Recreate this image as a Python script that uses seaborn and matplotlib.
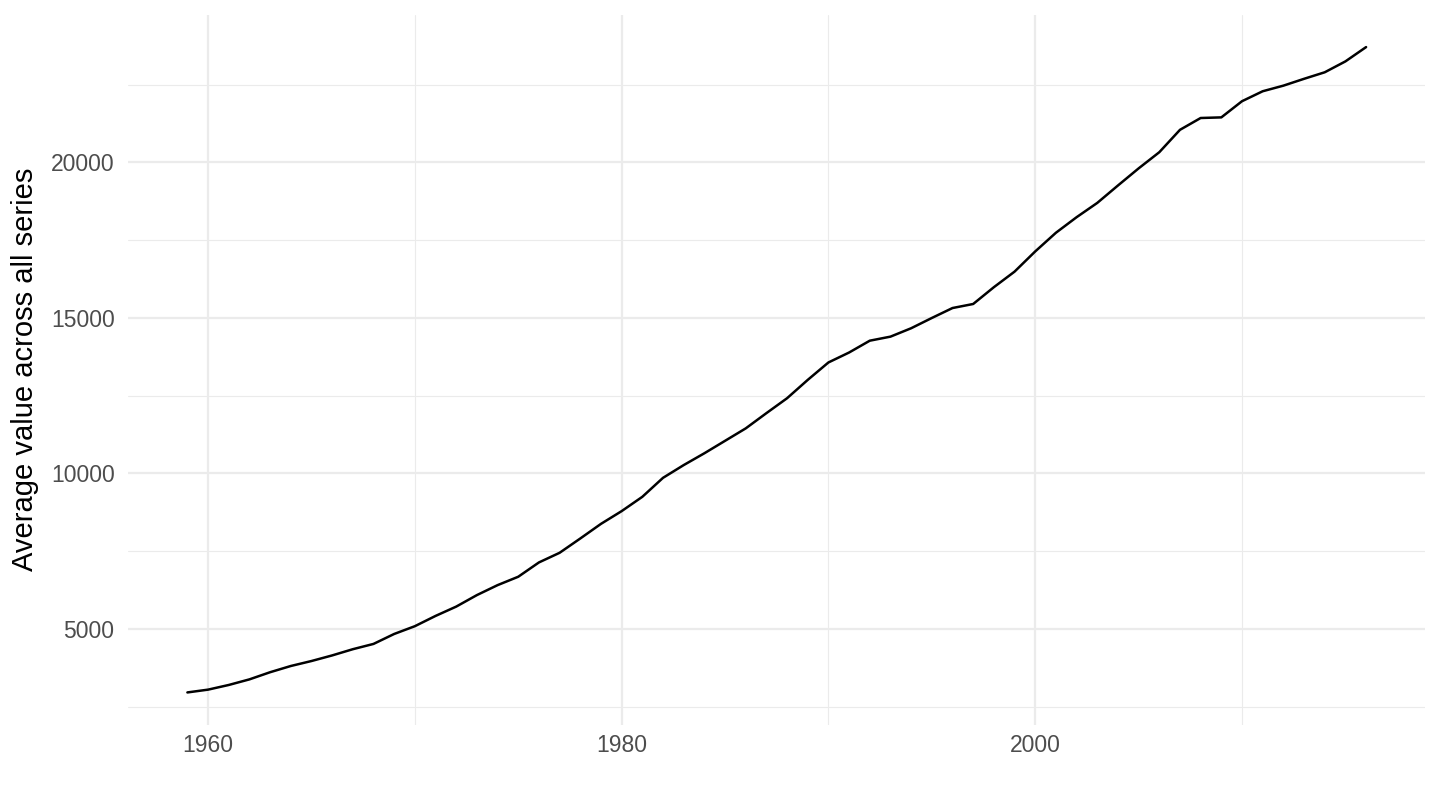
import numpy as np
import pandas as pd
import matplotlib
matplotlib.use("Agg")
import matplotlib.pyplot as plt
import seaborn as sns
from matplotlib.ticker import MultipleLocator

# --- data ---
years = list(range(1959, 2017))
avg_value = [
    2960, 3050, 3200, 3380, 3610, 3810, 3970, 4150, 4350, 4520,
    4840, 5090, 5420, 5720, 6090, 6410, 6680, 7140, 7450, 7910,
    8380, 8790, 9250, 9860, 10270, 10650, 11050, 11450, 11940, 12420,
    13010, 13570, 13890, 14270, 14400, 14670, 15000, 15320, 15450, 15990,
    16490, 17140, 17740, 18240, 18700, 19260, 19810, 20330, 21050, 21430,
    21450, 21970, 22290, 22470, 22690, 22900, 23250, 23710,
]
df = pd.DataFrame({"year": years, "value": avg_value})

sns.set_theme(style="white")
plt.rcParams["font.family"] = ["Liberation Sans", "DejaVu Sans"]

fig = plt.figure(figsize=(14.4, 8.1), dpi=100)
ax = fig.add_axes([0.0892, 0.1053, 0.9004, 0.8764])

sns.lineplot(data=df, x="year", y="value", color="black", linewidth=1.8, ax=ax)

# ggplot-like expansion
xr = years[-1] - years[0]
ax.set_xlim(years[0] - 0.05 * xr, years[-1] + 0.05 * xr)
yr = max(avg_value) - min(avg_value)
ax.set_ylim(min(avg_value) - 0.05 * yr, max(avg_value) + 0.05 * yr)

ax.xaxis.set_major_locator(MultipleLocator(20))
ax.xaxis.set_minor_locator(MultipleLocator(10))
ax.yaxis.set_major_locator(MultipleLocator(5000))
ax.yaxis.set_minor_locator(MultipleLocator(2500))

ax.grid(which="major", color="#EBEBEB", linewidth=1.6)
ax.grid(which="minor", color="#EBEBEB", linewidth=0.8)
ax.set_axisbelow(True)
for s in ax.spines.values():
    s.set_visible(False)

ax.tick_params(which="both", length=0, labelsize=16.5, labelcolor="#4D4D4D")
ax.tick_params(axis="y", pad=10)
ax.tick_params(axis="x", pad=6.5)
ax.set_xlabel("")
ax.set_ylabel("Average value across all series", fontsize=21, color="black", labelpad=8.5)

fig.savefig("out.png", dpi=100)
